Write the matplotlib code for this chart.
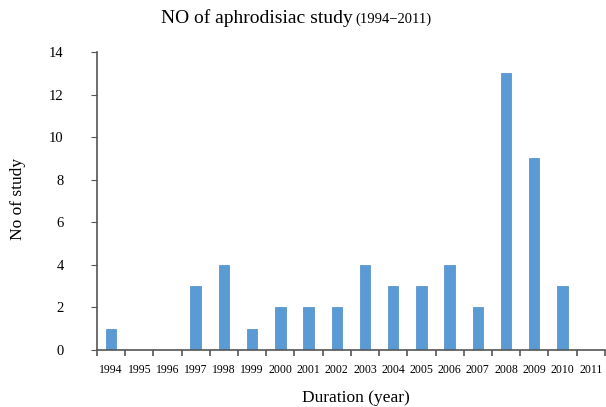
import matplotlib.pyplot as plt
import numpy as np

years = ['1994', '1995', '1996', '1997', '1998', '1999', '2000', '2001', '2002',
         '2003', '2004', '2005', '2006', '2007', '2008', '2009', '2010', '2011']
counts = [1, 0, 0, 3, 4, 1, 2, 2, 2, 4, 3, 3, 4, 2, 13, 9, 3, 0]

plt.rcParams['font.family'] = ['Liberation Serif', 'DejaVu Serif']

fig = plt.figure(figsize=(6.06, 4.07), dpi=100)
ax = fig.add_axes([0.160, 0.140, 0.838, 0.732])

x = np.arange(len(years))
ax.bar(x, counts, width=0.37, color='#5b9bd5', edgecolor='#4a8ac8', linewidth=0.5)

ax.set_xlim(-0.5, len(years) - 0.5)
ax.set_ylim(0, 14)
ax.set_yticks(range(0, 15, 2))
ax.tick_params(axis='y', labelsize=10.5, length=4, color='#555555', pad=20)

# ticks at category boundaries, labels under bars
ax.set_xticks(np.arange(-0.5, len(years), 1))
ax.set_xticklabels([])
ax.set_xticks(x, minor=True)
ax.set_xticklabels(years, minor=True, fontsize=8.5)
ax.tick_params(axis='x', which='major', length=4, color='#555555', width=1.2)
ax.tick_params(axis='x', which='minor', length=0, pad=10)

for s in ['top', 'right']:
    ax.spines[s].set_visible(False)
for s in ['left', 'bottom']:
    ax.spines[s].set_color('#555555')
    ax.spines[s].set_linewidth(1.2)

fig.text(0.582, 0.955, 'NO of aphrodisiac study', ha='right', va='center', fontsize=14)
fig.text(0.586, 0.953, '(1994\u22122011)', ha='left', va='center', fontsize=10.5)
fig.text(0.030, 0.51, 'No of study', rotation=90, ha='center', va='center', fontsize=12.5)
fig.text(0.587, 0.022, 'Duration (year)', ha='center', va='center', fontsize=12.5)

fig.savefig('out.png', dpi=100)
